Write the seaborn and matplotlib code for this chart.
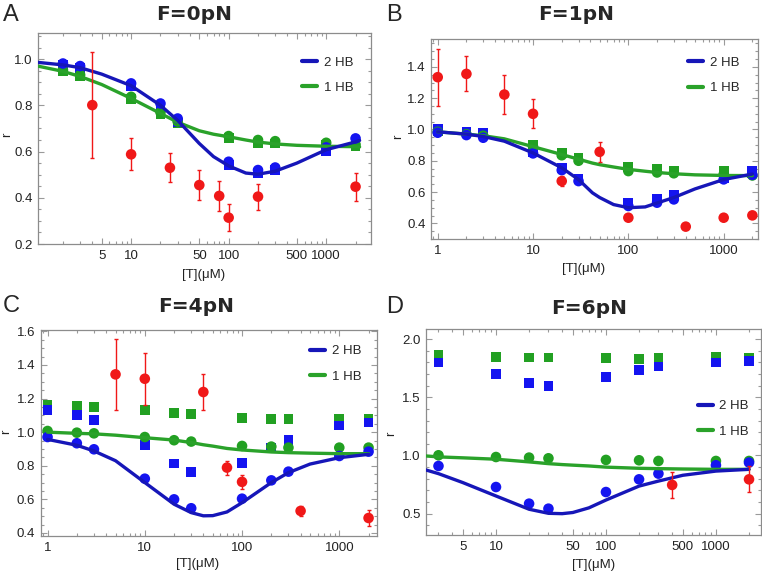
import numpy as np
import pandas as pd
import seaborn as sns
import matplotlib.pyplot as plt
from matplotlib.lines import Line2D
from matplotlib.ticker import FixedLocator, LogLocator, NullFormatter, MultipleLocator

# ---- panel A: F=0pN ----
a_x = [2, 3, 10, 20, 30, 100, 200, 300, 1000, 2000]
a_blue_sq = [0.975, 0.962, 0.883, 0.797, 0.726, 0.542, 0.508, 0.520, 0.604, 0.645]
a_blue_ci = [0.981, 0.970, 0.895, 0.808, 0.743, 0.556, 0.520, 0.531, 0.618, 0.657]
a_green_sq = [0.947, 0.926, 0.826, 0.760, 0.725, 0.657, 0.638, 0.635, 0.628, 0.624]
a_green_ci = [0.952, 0.932, 0.837, 0.770, 0.730, 0.667, 0.650, 0.645, 0.638, 0.630]
a_red_x = [4, 10, 25, 50, 80, 100, 200, 2000]
a_red_y = [0.801, 0.588, 0.530, 0.455, 0.408, 0.314, 0.405, 0.448]
a_red_err = [0.230, 0.069, 0.063, 0.065, 0.064, 0.059, 0.056, 0.061]
a_fit_x = [1.1, 2, 3, 5, 10, 20, 30, 50, 70, 100, 150, 200, 300, 500, 1000, 2000, 2200]
a_fit_2hb = [0.986, 0.975, 0.963, 0.935, 0.885, 0.800, 0.735, 0.635, 0.578, 0.538, 0.507,
             0.502, 0.515, 0.550, 0.608, 0.642, 0.648]
a_fit_1hb = [0.970, 0.947, 0.925, 0.890, 0.830, 0.765, 0.727, 0.690, 0.675, 0.664, 0.650,
             0.641, 0.633, 0.627, 0.623, 0.621, 0.620]

# ---- panel B: F=1pN ----
b_x = [1, 2, 3, 10, 20, 30, 100, 200, 300, 1000, 2000]
b_blue_sq = [1.004, 0.985, 0.975, 0.855, 0.755, 0.685, 0.532, 0.553, 0.579, 0.690, 0.734]
b_blue_ci = [0.979, 0.964, 0.947, 0.847, 0.740, 0.670, 0.511, 0.532, 0.553, 0.681, 0.710]
b_green_sq = [0.990, 0.980, 0.975, 0.904, 0.851, 0.819, 0.760, 0.745, 0.738, 0.734, 0.720]
b_green_ci = [0.985, 0.970, 0.960, 0.890, 0.835, 0.800, 0.734, 0.725, 0.720, 0.713, 0.706]
b_red_x = [1, 2, 5, 10, 20, 50, 100, 400, 1000, 2000]
b_red_y = [1.334, 1.355, 1.223, 1.100, 0.670, 0.857, 0.436, 0.379, 0.436, 0.451]
b_red_err = [0.183, 0.112, 0.125, 0.092, 0.030, 0.062, 0.0, 0.0, 0.0, 0.0]
b_fit_x = [1, 2, 3, 5, 10, 20, 30, 42, 50, 70, 100, 150, 200, 300, 500, 1000, 2000]
b_fit_2hb = [0.985, 0.970, 0.955, 0.925, 0.850, 0.755, 0.680, 0.595, 0.565, 0.520, 0.500,
             0.505, 0.530, 0.565, 0.620, 0.680, 0.715]
b_fit_1hb = [0.985, 0.970, 0.960, 0.940, 0.890, 0.840, 0.810, 0.785, 0.775, 0.760, 0.745,
             0.733, 0.725, 0.717, 0.710, 0.706, 0.705]

# ---- panel C: F=4pN ----
c_x = [1, 2, 3, 10, 20, 30, 100, 200, 300, 1000, 2000]
c_blue_sq = [1.130, 1.100, 1.070, 0.922, 0.813, 0.765, 0.818, 0.908, 0.952, 1.040, 1.057]
c_blue_ci = [0.971, 0.934, 0.898, 0.723, 0.600, 0.547, 0.604, 0.713, 0.765, 0.858, 0.884]
c_green_sq = [1.160, 1.156, 1.152, 1.132, 1.116, 1.110, 1.086, 1.080, 1.080, 1.080, 1.076]
c_green_ci = [1.007, 0.997, 0.993, 0.971, 0.952, 0.944, 0.918, 0.914, 0.908, 0.908, 0.908]
c_red_x = [5, 10, 40, 70, 100, 400, 2000]
c_red_y = [1.344, 1.318, 1.239, 0.789, 0.704, 0.531, 0.489]
c_red_err = [0.213, 0.155, 0.105, 0.042, 0.042, 0.031, 0.048]
c_fit_x = [1, 2, 3, 5, 10, 20, 30, 40, 50, 70, 100, 200, 300, 500, 1000, 2000]
c_fit_2hb = [0.957, 0.922, 0.888, 0.830, 0.700, 0.571, 0.521, 0.502, 0.503, 0.525, 0.580,
             0.700, 0.759, 0.810, 0.848, 0.868]
c_fit_1hb = [1.000, 0.993, 0.990, 0.982, 0.967, 0.953, 0.938, 0.925, 0.917, 0.903, 0.894,
             0.882, 0.878, 0.875, 0.872, 0.872]

# ---- panel D: F=6pN ----
d_x = [3, 10, 20, 30, 100, 200, 300, 1000, 2000]
d_blue_sq = [1.799, 1.699, 1.621, 1.598, 1.676, 1.736, 1.765, 1.799, 1.813]
d_blue_ci = [0.910, 0.729, 0.586, 0.543, 0.686, 0.795, 0.844, 0.916, 0.939]
d_green_sq = [1.862, 1.848, 1.842, 1.842, 1.836, 1.833, 1.836, 1.848, 1.840]
d_green_ci = [1.002, 0.987, 0.982, 0.976, 0.962, 0.959, 0.953, 0.953, 0.953]
d_red_x = [400, 2000]
d_red_y = [0.747, 0.795]
d_red_err = [0.113, 0.112]
d_fit_x = [2.3, 3, 5, 10, 20, 30, 40, 50, 70, 100, 200, 300, 500, 1000, 2000]
d_fit_2hb = [0.876, 0.844, 0.767, 0.652, 0.538, 0.503, 0.500, 0.510, 0.550, 0.617, 0.737,
             0.780, 0.830, 0.866, 0.881]
d_fit_1hb = [0.996, 0.988, 0.980, 0.968, 0.945, 0.930, 0.922, 0.917, 0.910, 0.900, 0.890,
             0.887, 0.884, 0.881, 0.881]

BLUE_PT = '#1414f0'
BLUE_LN = '#1616b8'
GREEN_PT = '#22a022'
GREEN_LN = '#2aa22a'
RED = '#f01818'

sns.set_style("ticks")
plt.rcParams['font.family'] = ['Liberation Sans', 'DejaVu Sans']

W, H = 762, 574
fig = plt.figure(figsize=(W / 100, H / 100), dpi=100)


def px_axes(x0, y0, x1, y1):
    return fig.add_axes([x0 / W, 1 - y1 / H, (x1 - x0) / W, (y1 - y0) / H])


def ftext(x, y, s, **kw):
    fig.text(x / W, 1 - y / H, s, **kw)


panels = [
    dict(box=(38, 33, 371, 244), xlim=(1.11, 2880), ylim=(0.2, 1.113),
         xt=[5, 10, 50, 100, 500, 1000], yt=[0.2, 0.4, 0.6, 0.8, 1.0], ymin=0.05,
         x=a_x, bsq=a_blue_sq, bci=a_blue_ci, gsq=a_green_sq, gci=a_green_ci,
         rx=a_red_x, ry=a_red_y, re=a_red_err, fx=a_fit_x, f2=a_fit_2hb, f1=a_fit_1hb,
         leg=(0.793, 0.80), title="F=0pN", tpos=(194, 14), letter="A", lpos=(3, 15),
         xl=(204, 275), yl=(7, 135)),
    dict(box=(431, 39, 757.7, 239), xlim=(0.85, 2275), ylim=(0.30, 1.578),
         xt=[1, 10, 100, 1000], yt=[0.4, 0.6, 0.8, 1.0, 1.2, 1.4], ymin=0.05,
         x=b_x, bsq=b_blue_sq, bci=b_blue_ci, gsq=b_green_sq, gci=b_green_ci,
         rx=b_red_x, ry=b_red_y, re=b_red_err, fx=b_fit_x, f2=b_fit_2hb, f1=b_fit_1hb,
         leg=(0.787, 0.818), title="F=1pN", tpos=(576, 15), letter="B", lpos=(386, 15),
         xl=(584, 269), yl=(398, 137)),
    dict(box=(40.7, 329.7, 376.7, 536.3), xlim=(0.85, 2425), ylim=(0.38, 1.61),
         xt=[1, 10, 100, 1000], yt=[0.4, 0.6, 0.8, 1.0, 1.2, 1.4, 1.6], ymin=0.05,
         x=c_x, bsq=c_blue_sq, bci=c_blue_ci, gsq=c_green_sq, gci=c_green_ci,
         rx=c_red_x, ry=c_red_y, re=c_red_err, fx=c_fit_x, f2=c_fit_2hb, f1=c_fit_1hb,
         leg=(0.801, 0.834), title="F=4pN", tpos=(196, 307), letter="C", lpos=(3, 306),
         xl=(198, 564), yl=(6, 432)),
    dict(box=(426, 328.7, 761, 535.3), xlim=(2.31, 2570), ylim=(0.314, 2.09),
         xt=[5, 10, 50, 100, 500, 1000], yt=[0.5, 1.0, 1.5, 2.0], ymin=0.1,
         x=d_x, bsq=d_blue_sq, bci=d_blue_ci, gsq=d_green_sq, gci=d_green_ci,
         rx=d_red_x, ry=d_red_y, re=d_red_err, fx=d_fit_x, f2=d_fit_2hb, f1=d_fit_1hb,
         leg=(0.811, 0.563), title="F=6pN", tpos=(589, 308), letter="D", lpos=(386, 307),
         xl=(594, 565), yl=(391, 434)),
]

for p in panels:
    ax = px_axes(*p['box'])
    ax.set_xscale('log')

    pts = pd.DataFrame({'x': p['x'], 'bsq': p['bsq'], 'bci': p['bci'],
                        'gsq': p['gsq'], 'gci': p['gci']})
    sns.scatterplot(data=pts, x='x', y='gsq', marker='s', s=50, color=GREEN_PT,
                    edgecolor='none', ax=ax, zorder=2)
    sns.scatterplot(data=pts, x='x', y='bsq', marker='s', s=50, color=BLUE_PT,
                    edgecolor='none', ax=ax, zorder=2)
    sns.scatterplot(data=pts, x='x', y='gci', marker='o', s=58, color=GREEN_PT,
                    edgecolor='none', ax=ax, zorder=3)
    sns.scatterplot(data=pts, x='x', y='bci', marker='o', s=58, color=BLUE_PT,
                    edgecolor='none', ax=ax, zorder=3)

    fit = pd.DataFrame({'x': p['fx'], 'f2': p['f2'], 'f1': p['f1']})
    sns.lineplot(data=fit, x='x', y='f1', color=GREEN_LN, lw=2.4, sort=False,
                 estimator=None, ax=ax, zorder=4)
    sns.lineplot(data=fit, x='x', y='f2', color=BLUE_LN, lw=2.4, sort=False,
                 estimator=None, ax=ax, zorder=4)

    ax.errorbar(p['rx'], p['ry'], yerr=p['re'], fmt='none', ecolor=RED, elinewidth=1,
                capsize=1.5, capthick=1, zorder=5)
    sns.scatterplot(x=p['rx'], y=p['ry'], marker='o', s=58, color=RED,
                    edgecolor='none', ax=ax, zorder=6)

    ax.set_xlim(*p['xlim'])
    ax.set_ylim(*p['ylim'])
    ax.xaxis.set_major_locator(FixedLocator(p['xt']))
    ax.set_xticklabels([str(v) for v in p['xt']])
    ax.xaxis.set_minor_locator(LogLocator(base=10, subs=np.arange(2, 10), numticks=20))
    ax.xaxis.set_minor_formatter(NullFormatter())
    ax.yaxis.set_major_locator(FixedLocator(p['yt']))
    ax.set_yticklabels([f"{v:.1f}" for v in p['yt']])
    ax.yaxis.set_minor_locator(MultipleLocator(p['ymin']))
    ax.set_xlabel('')
    ax.set_ylabel('')

    ax.tick_params(which='both', direction='in', top=True, right=True, color='#9a9a9a',
                   labelsize=9.5, labelcolor='#222222', width=0.8)
    ax.tick_params(which='major', length=4, pad=4)
    ax.tick_params(which='minor', length=2.2)
    for sp in ax.spines.values():
        sp.set_color('#8c8c8c')
        sp.set_linewidth(0.9)

    handles = [Line2D([], [], color=BLUE_LN, lw=3, label='2 HB'),
               Line2D([], [], color=GREEN_LN, lw=3, label='1 HB')]
    ax.legend(handles=handles, loc='center left', bbox_to_anchor=p['leg'], frameon=False,
              fontsize=9.5, handlelength=1.15, handletextpad=0.5, labelspacing=1.0,
              borderpad=0, borderaxespad=0)

    ftext(*p['tpos'], p['title'], fontsize=14.5, fontweight='bold', ha='center',
          va='center', family=['DejaVu Sans'])
    ftext(*p['lpos'], p['letter'], fontsize=17, ha='left', va='center')
    ftext(*p['xl'], "[T](μM)", fontsize=9.5, ha='center', va='center', color='#222222')
    ftext(*p['yl'], "r", fontsize=9.5, ha='center', va='center', rotation=90,
          color='#222222')

fig.savefig("out.png", dpi=100)
